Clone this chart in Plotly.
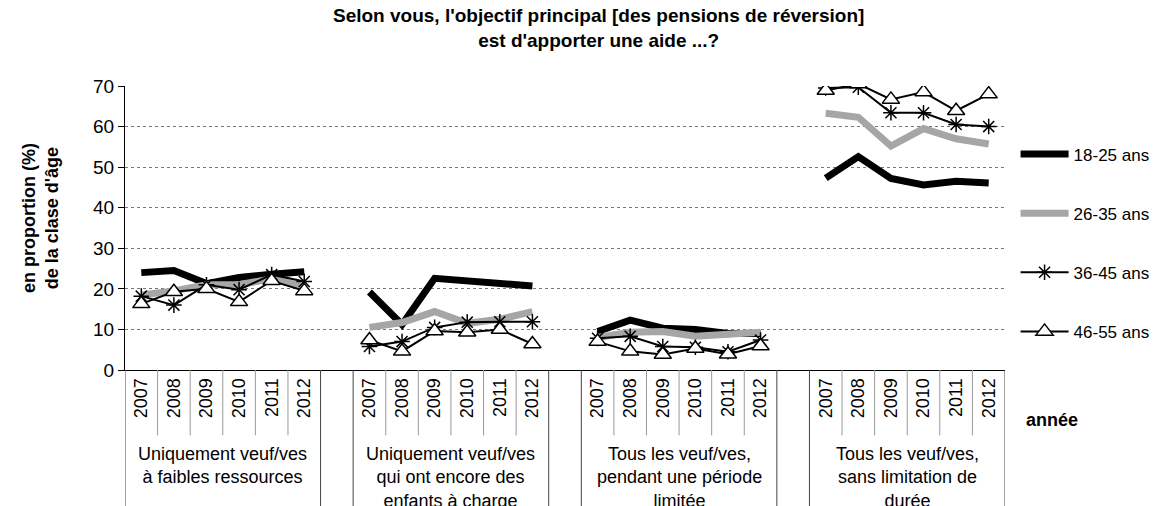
import plotly.graph_objects as go

years = ["2007", "2008", "2009", "2010", "2011", "2012"]
groups = [
    "Uniquement veuf/ves<br>à faibles ressources",
    "Uniquement veuf/ves<br>qui ont encore des<br>enfants à charge",
    "Tous les veuf/ves,<br>pendant une période<br>limitée",
    "Tous les veuf/ves,<br>sans limitation de<br>durée",
]
series_names = ["18-25 ans", "26-35 ans", "36-45 ans", "46-55 ans"]

s18_25 = [24.0, 24.5, 21.3, 22.8, 23.6, 24.2,
          19.2, 11.2, 22.6, 22.0, 21.0, 20.7,
          9.5, 12.3, 10.3, 10.0, 9.0, 9.0,
          47.3, 52.6, 47.2, 45.6, 46.5, 46.1]
s26_35 = [18.5, 19.5, 21.0, 21.0, 22.5, 20.5,
          10.5, 11.7, 14.4, 11.5, 12.5, 14.4,
          8.0, 9.3, 9.5, 8.3, 8.8, 9.3,
          63.3, 62.3, 55.2, 59.5, 57.0, 55.7]
s36_45 = [18.2, 16.0, 21.0, 19.8, 23.5, 21.8,
          5.8, 7.0, 10.5, 11.8, 11.9, 11.9,
          7.8, 8.3, 5.8, 5.6, 4.5, 7.4,
          69.5, 69.7, 63.4, 63.4, 60.5, 60.0]
s46_55 = [16.3, 19.3, 20.0, 16.8, 22.0, 19.5,
          7.4, 4.6, 9.6, 9.3, 10.0, 6.4,
          7.0, 4.6, 3.8, 5.3, 3.9, 5.9,
          68.9, 70.5, 66.7, 68.5, 63.9, 68.0]

ny = len(years)
ng = len(groups)
step = ny + 1  # one blank category between groups


def expand(vals):
    out_x, out_y = [], []
    for g in range(ng):
        for i in range(ny):
            out_x.append(g * step + i)
            out_y.append(vals[g * ny + i])
        if g < ng - 1:
            out_x.append(g * step + ny)
            out_y.append(None)
    return out_x, out_y


fig = go.Figure()
styles = [
    dict(mode="lines", line=dict(color="black", width=7)),
    dict(mode="lines", line=dict(color="#a6a6a6", width=7)),
    dict(mode="lines+markers", line=dict(color="black", width=2),
         marker=dict(symbol="asterisk-open", size=13, color="black",
                     line=dict(color="black", width=1.5))),
    dict(mode="lines+markers", line=dict(color="black", width=2),
         marker=dict(symbol="triangle-up", size=15, color="white",
                     line=dict(color="black", width=1.5))),
]
for name, vals, st, gi in zip(series_names, [s18_25, s26_35, s36_45, s46_55], styles, range(4)):
    xs, ys = expand(vals)
    fig.add_trace(go.Scatter(x=xs, y=ys, name=name, connectgaps=False,
                             legendgroup=f"g{gi}", **st))

tickvals = [g * step + i for g in range(ng) for i in range(ny)]
ticktext = [years[i] for g in range(ng) for i in range(ny)]
ncat = ng * step - 1

shapes = []
for k in range(ncat + 1):
    xb = k - 0.5
    is_edge = (k % step == 0) or (k % step == ny)
    shapes.append(dict(type="line", xref="x", yref="paper", x0=xb, x1=xb,
                       y0=0, y1=-0.52 if is_edge else -0.23,
                       line=dict(color="#444" if is_edge else "#999", width=1)))

annotations = []
for g, lab in enumerate(groups):
    annotations.append(dict(x=g * step + (ny - 1) / 2, xref="x", y=-0.255, yref="paper",
                            text=lab, showarrow=False, yanchor="top", xanchor="center",
                            font=dict(size=18, color="black")))
annotations.append(dict(x=-0.0966, xref="paper", y=0.535, yref="paper",
                        text="<b>en proportion (%)<br>de la clase d'âge</b>",
                        textangle=-90, showarrow=False, xanchor="center", yanchor="middle",
                        font=dict(size=18, color="black")))
annotations.append(dict(x=1.022, xref="paper", y=-0.218, yref="paper",
                        text="<b>année</b>", showarrow=False, xanchor="left",
                        font=dict(size=18, color="black")))
annotations.append(dict(x=0.5375, xref="paper", y=1.292, yref="paper",
                        text="<b>Selon vous, l'objectif principal [des pensions de réversion]<br>est d'apporter une aide ...?</b>",
                        showarrow=False, xanchor="center", yanchor="top",
                        font=dict(size=19, color="black")))

# page body has an 8px default margin: figure sized/offset to compensate
fig.update_layout(
    width=1163, height=498,
    margin=dict(l=117, r=166, t=78, b=136),
    paper_bgcolor="white", plot_bgcolor="white",
    font=dict(family="Liberation Sans, Arial, sans-serif", color="black"),
    showlegend=True,
    legend=dict(x=1.012, xanchor="left", y=0.822, yanchor="top",
                font=dict(size=17, color="black"), tracegroupgap=34,
                itemwidth=48, bgcolor="rgba(0,0,0,0)"),
    shapes=shapes,
    annotations=annotations,
)
fig.update_xaxes(range=[-0.5, ncat - 0.5], tickmode="array", tickvals=tickvals,
                 ticktext=ticktext, tickangle=-90, tickfont=dict(size=18),
                 showgrid=False, zeroline=False, showline=True, linecolor="black",
                 linewidth=1, ticks="", fixedrange=True)
fig.update_yaxes(range=[0, 70], dtick=10, tickfont=dict(size=19),
                 showgrid=True, gridcolor="#777", griddash="dot", gridwidth=1,
                 zeroline=False, showline=True, linecolor="black", linewidth=1,
                 ticks="outside", ticklen=6, tickcolor="black")

fig.write_html("out.html")
